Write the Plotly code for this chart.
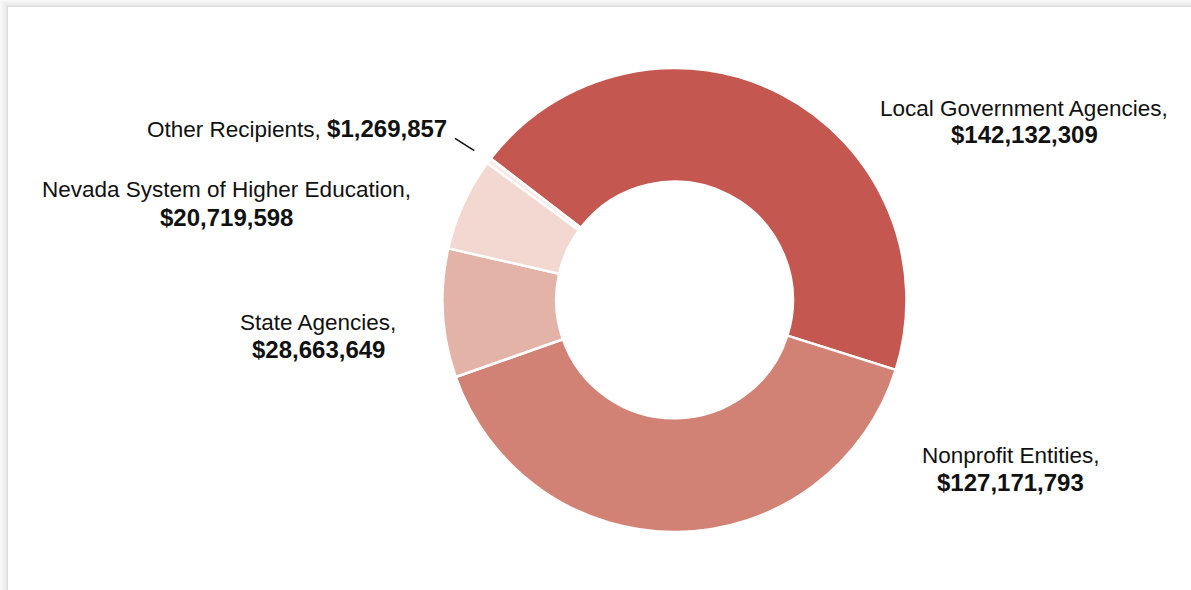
import plotly.graph_objects as go

# Grant funds by recipient type
recipients = [
    "Local Government Agencies",
    "Nonprofit Entities",
    "State Agencies",
    "Nevada System of Higher Education",
    "Other Recipients",
]
amounts = [142132309, 127171793, 28663649, 20719598, 1269857]
slice_colors = ["#C4574F", "#D28274", "#E4B3A7", "#F2D8D0", "#F8E9E5"]

W, H = 1191, 590
FONT = "Liberation Sans, Arial, Helvetica, sans-serif"
INK = "#111111"


def px(x):
    return x / W


def py(y):
    return 1 - y / H


def money(v):
    return "${:,}".format(v)


# donut geometry (pixels)
cx, cy, r = 674.5, 300, 232

fig = go.Figure(
    go.Pie(
        labels=recipients,
        values=amounts,
        sort=False,
        direction="clockwise",
        rotation=-52.4,
        hole=0.51,
        marker=dict(colors=slice_colors, line=dict(color="white", width=2.5)),
        textinfo="none",
        hoverinfo="label+value",
        showlegend=False,
        domain=dict(x=[px(cx - r), px(cx + r)], y=[py(cy + r), py(cy - r)]),
    )
)

# two-line labels: (index, centre x, name-line middle y, value-line middle y)
two_line = [
    (0, 1024, 108, 134.7),
    (1, 1010.5, 455, 482.5),
    (2, 318, 322.8, 349.5),
    (3, 226, 189.5, 217.2),
]
annotations = []
for i, x, y1, y2 in two_line:
    annotations.append(dict(
        x=px(x), y=py(y1), xref="paper", yref="paper",
        xanchor="center", yanchor="middle", showarrow=False,
        text=recipients[i] + ",",
        font=dict(family=FONT, size=22.5, color=INK),
    ))
    annotations.append(dict(
        x=px(x), y=py(y2), xref="paper", yref="paper",
        xanchor="center", yanchor="middle", showarrow=False,
        text="<b>" + money(amounts[i]) + "</b>",
        font=dict(family=FONT, size=24, color=INK),
    ))

# single-line label for the smallest slice
annotations.append(dict(
    x=px(449), y=py(128.7), xref="paper", yref="paper",
    xanchor="right", yanchor="middle", showarrow=False,
    text=recipients[4] + ", <span style='font-size:24px'><b>" + money(amounts[4]) + "</b></span>",
    font=dict(family=FONT, size=22.5, color=INK),
))

shapes = []
# card with a soft shadow along its top and left edges
for off, alpha in [(6, 0.02), (4, 0.025), (2, 0.03), (1, 0.03)]:
    shapes.append(dict(
        type="rect", xref="paper", yref="paper", layer="below",
        x0=px(8 - off), x1=1.0, y0=0.0, y1=py(7 - off),
        fillcolor="rgba(0,0,0,%s)" % alpha, line=dict(width=0),
    ))
shapes.append(dict(
    type="rect", xref="paper", yref="paper", layer="below",
    x0=px(8), x1=1.0, y0=0.0, y1=py(7),
    fillcolor="white", line=dict(width=0),
))
# leader line to the thin slice
shapes.append(dict(
    type="line", xref="paper", yref="paper",
    x0=px(455), y0=py(138.3), x1=px(474.3), y1=py(150.7),
    line=dict(color=INK, width=1.5),
))

fig.update_layout(
    width=W, height=H, autosize=False,
    margin=dict(l=0, r=0, t=0, b=0),
    paper_bgcolor="#f8f8f8",
    plot_bgcolor="white",
    annotations=annotations,
    shapes=shapes,
)

fig.write_html("out.html")
